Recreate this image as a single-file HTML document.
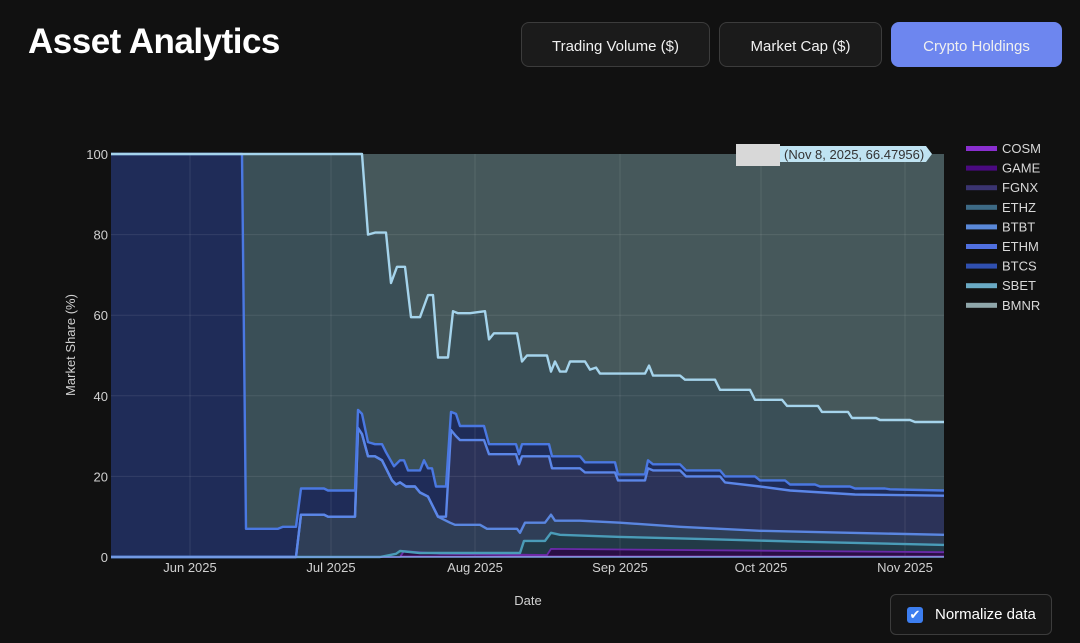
<!DOCTYPE html>
<html><head><meta charset="utf-8"><style>
body{margin:0;width:1080px;height:643px;background:#111111;font-family:"Liberation Sans",sans-serif;overflow:hidden;position:relative;color:#fff}
.t{position:absolute;left:28px;top:22px;font-size:35px;font-weight:bold;letter-spacing:-0.5px}
.b{position:absolute;top:22px;height:45px;box-sizing:border-box;border:1px solid #3c3c3c;background:#1b1b1b;border-radius:8px;font-size:15px;display:flex;align-items:center;justify-content:center;color:#f0f0f0;padding-top:3px}
.n{position:absolute;left:890px;top:594px;width:162px;height:41px;box-sizing:border-box;border:1px solid #3c3c3c;border-radius:6px;background:#161616;font-size:15px;display:flex;align-items:center}
.cb{width:16px;height:16px;background:#3d7ef0;border-radius:3px;margin-left:16px;margin-right:12px;display:flex;align-items:center;justify-content:center;font-size:13px;color:#fff}
</style></head><body>
<div class="t">Asset Analytics</div>
<div class="b" style="left:521px;width:189px">Trading Volume ($)</div>
<div class="b" style="left:719px;width:163px">Market Cap ($)</div>
<div class="b" style="left:891px;width:171px;background:#6d86ef;border-color:#6d86ef">Crypto Holdings</div>
<div class="n"><div class="cb">✔</div>Normalize data</div>
<svg width="1080" height="643" style="position:absolute;left:0;top:0" id="s"></svg>
<script>
const Y=v=>557-4.03*v;
function pts(a){return a.map(p=>p[0]+','+Y(p[1]).toFixed(1)).join(' ');}
const L1=[[111,100],[362,100],[368,80],[375,80.5],[386,80.5],[391,68],[397,72],[405,72],[411,59.5],[420,59.5],[428,65],[433,65],[438,49.5],[448,49.5],[453,61],[458,60.5],[470,60.5],[485,61],[489,54],[494,55.5],[517,55.5],[522,48.5],[527,50],[547,50],[551,46],[555,48.5],[560,46],[566,46],[570,48.5],[585,48.5],[590,46.5],[596,47],[600,45.5],[645,45.5],[649,47.5],[653,45],[680,45],[685,44],[715,44],[720,41.5],[750,41.5],[755,39],[782,39],[787,37.5],[818,37.5],[822,36],[848,36],[852,34.5],[876,34.5],[880,34],[910,34],[915,33.5],[944,33.5]];
const L2=[[111,100],[242,100],[246,7],[278,7],[283,7.5],[296,7.5],[301,17],[324,17],[328,16.5],[355,16.5],[358,36.5],[362,35.5],[368,28.5],[375,28],[382,28],[386,26],[394,22.5],[400,24],[404,24],[408,21.5],[420,21.5],[424,24],[428,22],[432,22],[436,17.5],[446,17.5],[451,36],[456,35.5],[460,32.5],[484,32.5],[489,28],[516,28],[519,25.5],[522,28],[549,28],[552,25],[580,25],[585,23.5],[615,23.5],[618,20.5],[645,20.5],[648,24],[653,23],[680,23],[686,21.5],[720,21.5],[725,20],[755,20],[760,19],[785,19],[790,18],[815,18],[820,17.5],[850,17.5],[855,17],[885,17],[890,16.8],[944,16.5]];
const L3=[[111,0],[296,0],[301,10.5],[324,10.5],[328,10],[355,10],[358,32],[362,30.5],[368,25],[375,25],[382,24],[386,22],[392,19],[396,18],[400,18.5],[406,17.5],[415,17.5],[420,16],[428,15],[432,13],[438,10],[446,10],[451,31.5],[456,30],[460,29],[484,29],[489,25.5],[516,25.5],[519,23],[522,25],[549,25],[552,22],[580,22],[585,21],[615,21],[618,19],[645,19],[648,22],[653,21.5],[680,21.5],[686,20],[720,20],[725,18.5],[760,17.5],[790,16.5],[855,15.5],[944,15.2]];
const L4=[[111,0],[296,0],[301,10.5],[324,10.5],[328,10],[355,10],[358,32],[362,30.5],[368,25],[375,25],[382,24],[386,22],[392,19],[396,18],[400,18.5],[406,17.5],[415,17.5],[420,16],[428,15],[432,13],[438,10],[446,9],[450,8.5],[455,8],[480,8],[487,7],[517,7],[520,6],[525,8.5],[545,8.5],[551,10.5],[555,9],[580,9],[620,8.5],[680,7.5],[760,6.5],[850,6],[944,5.5]];
const L5=[[111,0],[380,0],[396,0.8],[400,1.5],[420,1],[520,1],[524,4],[545,4],[551,6],[560,5.5],[620,5],[700,4.5],[800,3.8],[944,3]];
const L6=[[111,0],[400,0],[404,1.5],[440,0.8],[547,0.5],[551,2],[944,1.2]];
function area(a,fill){return `<polygon points="${pts(a)} 944,557 111,557" fill="${fill}"/>`;}
function line(a,c,w){return `<polyline points="${pts(a)}" fill="none" stroke="${c}" stroke-width="${w||2.4}" stroke-linejoin="round"/>`;}
let h='';
h+=`<rect x="111" y="154" width="833" height="403" fill="#46585b"/>`;
h+=area(L1,'#3a4f57');h+=area(L2,'#1f2c58');h+=area(L3,'#2c3359');h+=area(L4,'#2f3e57');h+=area(L5,'#223a47');h+=area(L6,'#2a0f45');
let g='';
[20,40,60,80].forEach(v=>g+=`<line x1="111" x2="944" y1="${Y(v)}" y2="${Y(v)}" stroke="rgba(255,255,255,0.09)"/>`);
[190,331,475,620,761,905].forEach(x=>g+=`<line x1="${x}" x2="${x}" y1="154" y2="557" stroke="rgba(255,255,255,0.09)"/>`);
h+=g;
h+=line(L6,'#6a2aa8',1.8);h+=`<line x1="400" x2="944" y1="556.5" y2="556.5" stroke="#b040d0" stroke-width="1.5"/>`;
h+=line(L5,'#4a9cb8');h+=line(L4,'#5a86e0');h+=line(L3,'#5b86e8');h+=line(L2,'#4a78e2');h+=line(L1,'#a5d4ec');
h+=`<line x1="111" x2="944" y1="557" y2="557" stroke="#7a9fe0" stroke-width="1.5"/>`;
[0,20,40,60,80,100].forEach(v=>h+=`<text x="108" y="${Y(v)+5}" text-anchor="end" font-size="13" fill="#d0d0d0">${v}</text>`);
[[190,'Jun 2025'],[331,'Jul 2025'],[475,'Aug 2025'],[620,'Sep 2025'],[761,'Oct 2025'],[905,'Nov 2025']].forEach(d=>h+=`<text x="${d[0]}" y="572" text-anchor="middle" font-size="13" fill="#d0d0d0">${d[1]}</text>`);
h+=`<text x="528" y="605" text-anchor="middle" font-size="13" fill="#d0d0d0">Date</text>`;
h+=`<text transform="translate(75,345) rotate(-90)" text-anchor="middle" font-size="13" fill="#d0d0d0">Market Share (%)</text>`;
h+=`<rect x="736" y="144" width="44" height="22" fill="#d8d8d8"/>`;
h+=`<polygon points="780,146 926,146 932,154 926,162 780,162" fill="#bfe3f2"/>`;
h+=`<text x="784" y="159" font-size="13" fill="#333">(Nov 8, 2025, 66.47956)</text>`;
const lg=[['COSM','#8a2fd0'],['GAME','#4a0a80'],['FGNX','#3a3470'],['ETHZ','#3d6a85'],['BTBT','#5a88d8'],['ETHM','#5070e0'],['BTCS','#3050b0'],['SBET','#6aaac4'],['BMNR','#8fa6aa']];
lg.forEach((l,i)=>{const y=148+i*19.6;h+=`<rect x="966" y="${y-2}" width="31" height="5" fill="${l[1]}"/><text x="1002" y="${y+5}" font-size="13" fill="#d8d8d8">${l[0]}</text>`;});
document.getElementById('s').innerHTML=h;
</script>
</body></html>
